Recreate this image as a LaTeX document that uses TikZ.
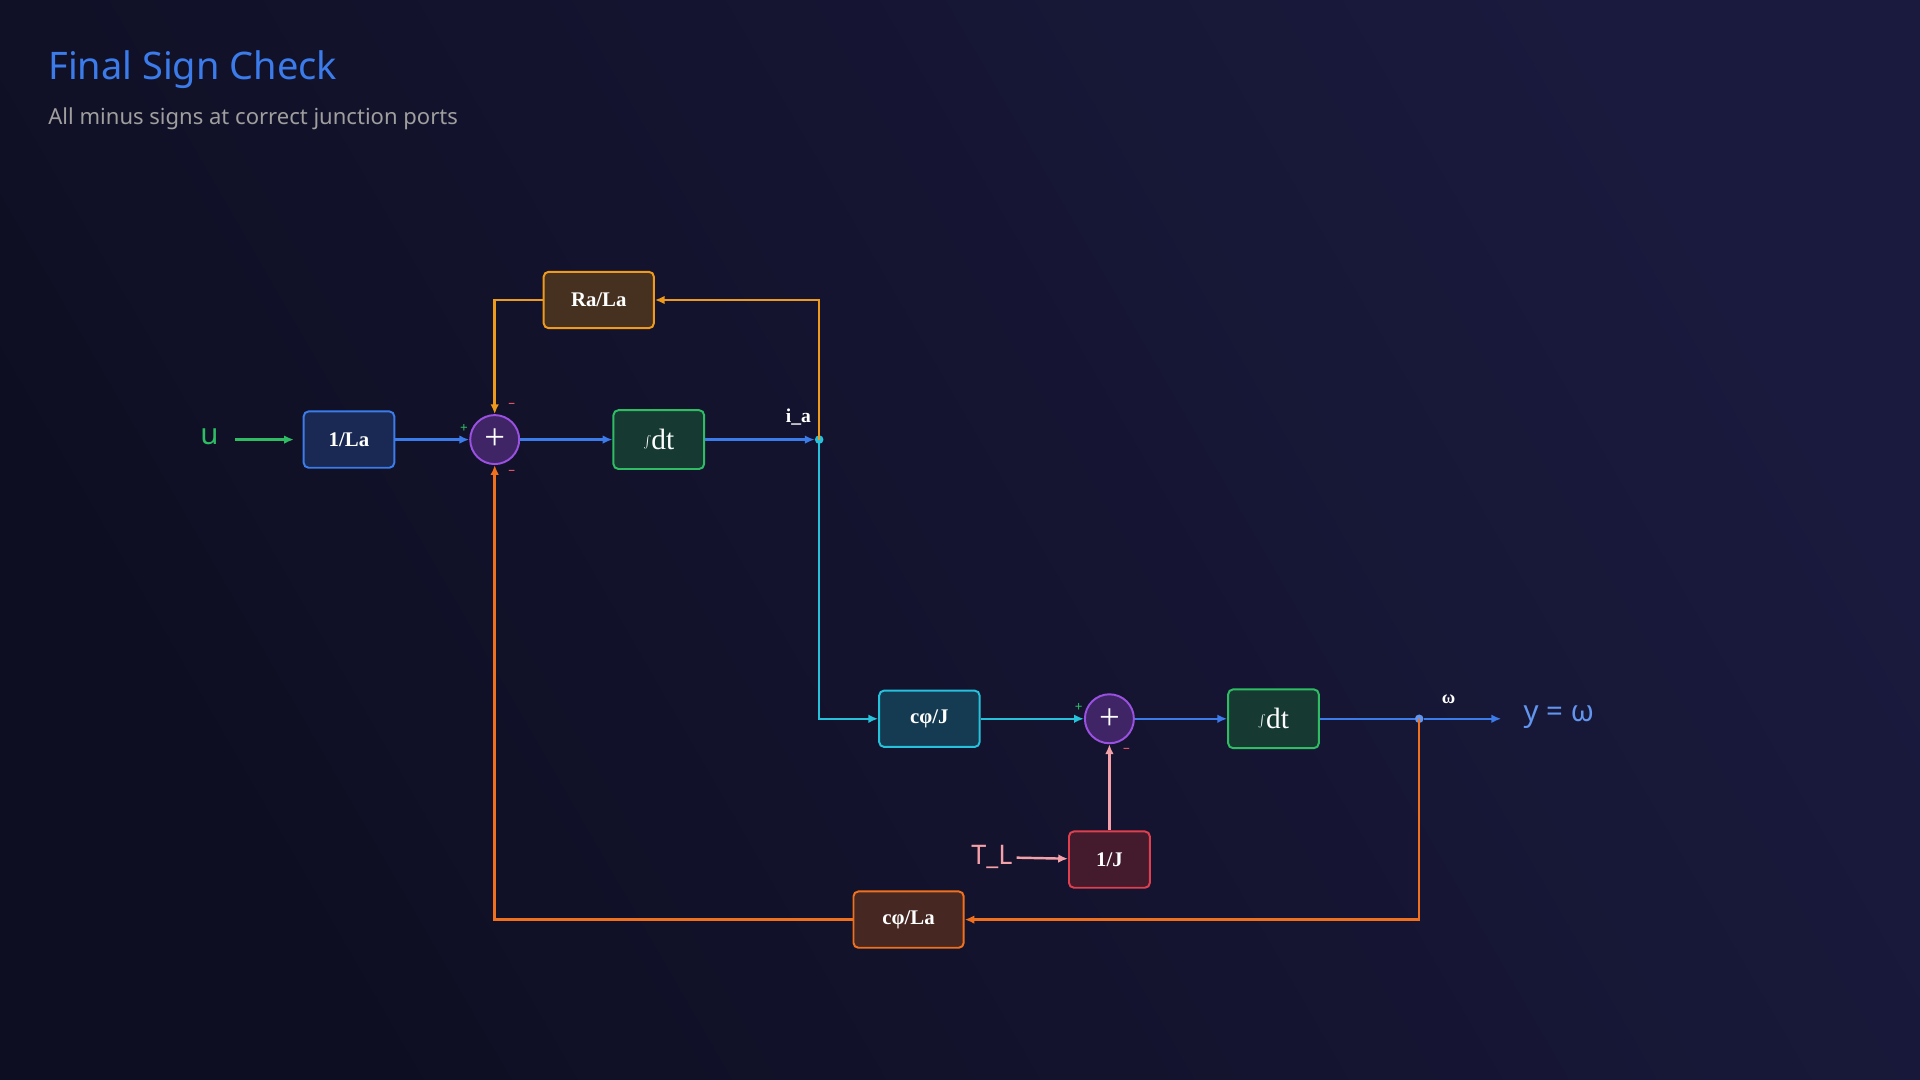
\documentclass[tikz,border=0pt]{standalone}
\usepackage{fontspec}
\setmainfont{Liberation Serif}
\setsansfont{Noto Sans}
\usetikzlibrary{arrows.meta,positioning}
\definecolor{bgA}{HTML}{0E0E22}
\definecolor{bgB}{HTML}{1A1A3E}
\definecolor{cBlue}{HTML}{3B7BEA}
\definecolor{cGreen}{HTML}{2EBD63}
\definecolor{cOrange}{HTML}{F09A1C}
\definecolor{cRust}{HTML}{F0701E}
\definecolor{cCyan}{HTML}{26C2DC}
\definecolor{cPink}{HTML}{F4A0A8}
\definecolor{cRed}{HTML}{E0404E}
\definecolor{cPurple}{HTML}{9A50E0}
\definecolor{cMinus}{HTML}{F05A6A}
\tikzset{
  blk/.style={draw,line width=1.6pt,rounded corners=4pt,text=white,
    font=\fontsize{17}{20}\selectfont\bfseries,minimum height=46pt},
  intg/.style={blk,draw=cGreen,fill=cGreen!25!bgA,minimum width=74pt,minimum height=48pt,
    font=\fontsize{24}{26}\selectfont},
  sumj/.style={circle,draw=cPurple,line width=1.6pt,fill=cPurple!35!bgA,minimum size=40pt,
    inner sep=0pt,text=white,font=\fontsize{30}{30}\selectfont},
  wire/.style={line width=2pt,-{Latex[length=8pt,width=7pt]}},
  sgn/.style={font=\sffamily\bfseries\fontsize{11}{11}\selectfont},
  dot/.style={circle,inner sep=0pt,minimum size=7pt},
}
\begin{document}
\begin{tikzpicture}[x=1pt,y=-1pt]
\fill[left color=bgA,right color=bgB,shading angle=120] (0,0) rectangle (1568,882);
\useasboundingbox (0,0) rectangle (1568,882);
\node[anchor=west,text=cBlue,font=\sffamily\bfseries\fontsize{31}{36}\selectfont] (title) at (36,57) {Final Sign Check};
\node[anchor=west,text=gray!75,font=\sffamily\fontsize{18}{22}\selectfont] (sub) at (36,97) {All minus signs at correct junction ports};
% upper loop
\node[text=cGreen,font=\sffamily\bfseries\fontsize{24}{26}\selectfont] (u) at (171,357) {u};
\node[blk,draw=cBlue,fill=cBlue!25!bgA,minimum width=74pt] (gLa) at (285,359) {1/La};
\node[sumj] (s1) at (404,359) {+};
\node[intg] (i1) at (538,359) {$\int$dt};
\node[dot,fill=cCyan] (ia) at (669,359) {};
\node[text=white,font=\fontsize{16}{18}\selectfont\bfseries] (lia) at (652,341) {i\_a};
\node[blk,draw=cOrange,fill=cOrange!25!bgA,minimum width=90pt] (gRa) at (489,245) {Ra/La};
\coordinate (c1) at (192,359); \coordinate (c2) at (240,359);
\draw[wire,cGreen] (c1) -- (c2);
\draw[wire,cBlue] (gLa) -- (s1);
\draw[wire,cBlue] (s1) -- (i1);
\draw[wire,cBlue] (i1) -- (ia);
\draw[wire,cOrange] (ia.center) |- (gRa);
\draw[wire,cOrange] (gRa) -| (s1);
\node[sgn,text=cGreen] at (379,350) {+};
\node[sgn,text=cMinus] at (418,331) {--};
\node[sgn,text=cMinus] at (418,386) {--};
% lower loop
\node[blk,draw=cCyan,fill=cCyan!25!bgA,minimum width=82pt] (gcJ) at (759,587) {cφ/J};
\node[sumj] (s2) at (906,587) {+};
\node[intg] (i2) at (1040,587) {$\int$dt};
\node[dot,fill=cBlue!80!white] (om) at (1159,587) {};
\node[text=white,font=\fontsize{15}{17}\selectfont\bfseries] (lom) at (1183,571) {ω};
\node[text=cBlue!80!white,font=\sffamily\bfseries\fontsize{24}{26}\selectfont] (y) at (1273,586) {y = ω};
\node[blk,draw=cRed,fill=cRed!25!bgA,minimum width=66pt] (gJ) at (906,702) {1/J};
\node[text=cPink,font=\sffamily\bfseries\fontsize{22}{24}\selectfont] (TL) at (810,700) {T\_L};
\node[blk,draw=cRust,fill=cRust!25!bgA,minimum width=90pt] (gcLa) at (742,751) {cφ/La};
\draw[wire,cCyan] (ia.center) |- (gcJ);
\draw[wire,cCyan] (gcJ) -- (s2);
\draw[wire,cBlue] (s2) -- (i2);
\draw[line width=2pt,cBlue] (i2) -- (om);
\coordinate (yin) at (1226,587);
\draw[wire,cBlue] (om) -- (yin);
\draw[wire,cPink] (TL) -- (gJ);
\draw[wire,cPink] (gJ) -- (s2);
\draw[wire,cRust] (om.center) |- (gcLa);
\draw[wire,cRust] (gcLa) -| (s1);
\node[sgn,text=cGreen] at (881,578) {+};
\node[sgn,text=cMinus] at (920,613) {--};
\end{tikzpicture}
\end{document}
